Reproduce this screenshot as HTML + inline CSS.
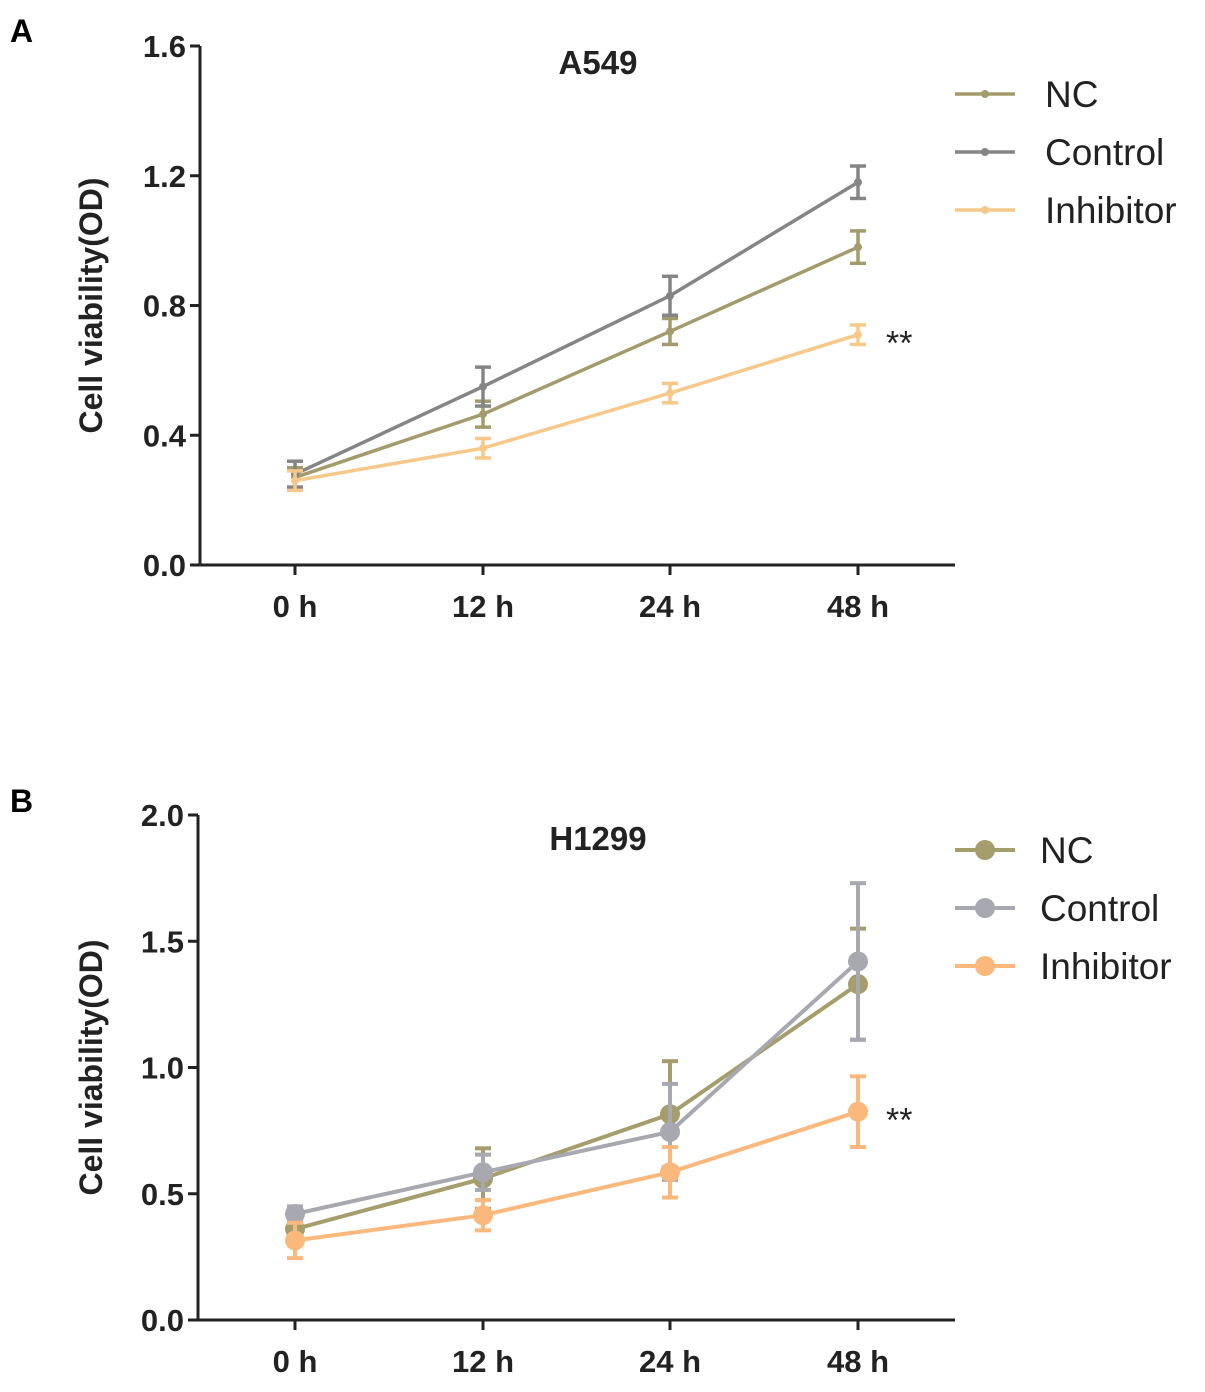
<!DOCTYPE html>
<html><head><meta charset="utf-8"><style>
body{margin:0;background:#fff;width:1205px;height:1387px;overflow:hidden}
svg text{font-family:"Liberation Sans",Arial,sans-serif}
</style></head><body>
<svg id="fig" width="1205" height="1387"></svg>
<script>
const categories=["0 h","12 h","24 h","48 h"];
const seriesNames=["NC","Control","Inhibitor"];
const aNC=[0.27,0.465,0.72,0.98], aNCerr=[0.03,0.04,0.04,0.05];
const aCtl=[0.28,0.55,0.83,1.18], aCtlerr=[0.04,0.06,0.06,0.05];
const aInh=[0.26,0.36,0.53,0.71], aInherr=[0.03,0.03,0.03,0.03];
const bNC=[0.36,0.56,0.815,1.33], bNCerr=[0.04,0.12,0.21,0.22];
const bCtl=[0.42,0.585,0.745,1.42], bCtlerr=[0.03,0.07,0.19,0.31];
const bInh=[0.315,0.415,0.585,0.825], bInherr=[0.07,0.06,0.1,0.14];
const aTicks=[0,0.4,0.8,1.2,1.6], bTicks=[0,0.5,1.0,1.5,2.0];
const NS="http://www.w3.org/2000/svg";
const svg=document.getElementById('fig');
function mk(t,a,p){const e=document.createElementNS(NS,t);for(const k in a)e.setAttribute(k,a[k]);(p||svg).appendChild(e);return e;}
function panel(o){
 const g=mk('g',{});
 
 
 const y=v=>o.y0-(v-o.ymin)/(o.ymax-o.ymin)*(o.y0-o.y1);
 const xs=[295,483,670,858];
 const x=i=>xs[i];
 let t=mk('text',{x:10,y:o.labY,'font-size':32,'font-weight':'bold'},g);t.textContent=o.letter;
 
 mk('line',{x1:o.ax,y1:o.y1,x2:o.ax,y2:o.y0,stroke:'#222','stroke-width':3},g);
 mk('line',{x1:o.ax,y1:o.y0,x2:955,y2:o.y0,stroke:'#222','stroke-width':3},g);
 o.ticks.forEach(v=>{mk('line',{x1:o.ax-10,y1:y(v),x2:o.ax,y2:y(v),stroke:'#222','stroke-width':3},g);
  const tt=mk('text',{x:o.ax-14,y:y(v)+11,'font-size':31,'font-weight':'bold','text-anchor':'end',fill:'#222'},g);tt.textContent=v.toFixed(1);
  });
 categories.forEach((c,i)=>{mk('line',{x1:x(i),y1:o.y0,x2:x(i),y2:o.y0+10,stroke:'#222','stroke-width':3},g);
  const tt=mk('text',{x:x(i),y:o.y0+52,'font-size':31,'font-weight':'bold','text-anchor':'middle',fill:'#222'},g);tt.textContent=c;
  });
 const yt=mk('text',{transform:`translate(102,${(o.y0+o.y1)/2}) rotate(-90)`,'font-size':32,'font-weight':'bold','text-anchor':'middle',fill:'#222'},g);
 yt.textContent='Cell viability(OD)';
 const ti=mk('text',{x:598,y:o.titleY,'font-size':33,'font-weight':'bold','text-anchor':'middle',fill:'#222'},g);
 ti.textContent=o.title;
 o.series.forEach((s,si)=>{
  const sg=mk('g',{},g);
  
  mk('polyline',{points:s.v.map((v,i)=>x(i)+','+y(v)).join(' '),fill:'none',stroke:s.c,'stroke-width':o.lw},sg);
  s.v.forEach((v,i)=>{const hi=y(v+s.e[i]),lo=y(v-s.e[i]);
   mk('line',{x1:x(i),y1:hi,x2:x(i),y2:lo,stroke:s.c,'stroke-width':o.lw},sg);
   mk('line',{x1:x(i)-8,y1:hi,x2:x(i)+8,y2:hi,stroke:s.c,'stroke-width':o.lw},sg);
   mk('line',{x1:x(i)-8,y1:lo,x2:x(i)+8,y2:lo,stroke:s.c,'stroke-width':o.lw},sg);
   const m=mk('circle',{cx:x(i),cy:y(v),r:o.r,fill:s.c},sg);
   });
  const ly=o.legY+si*58;
  const lg=mk('g',{},g);
  mk('line',{x1:955,y1:ly,x2:1015,y2:ly,stroke:s.c,'stroke-width':o.lw},lg);
  mk('circle',{cx:985,cy:ly,r:o.r,fill:s.c},lg);
  const lt=mk('text',{x:o.legX,y:ly+13,'font-size':37,fill:'#222'},lg);lt.textContent=seriesNames[si];
 });
 const st=mk('text',{x:886,y:y(o.series[2].v[3])+20,'font-size':34,fill:'#222'},g);st.textContent='**';
 
}
panel({name:'panel-a-a549',letter:'A',labY:42,title:'A549',titleY:74,ax:200,y0:565,y1:46,ymin:0,ymax:1.6,ticks:aTicks,lw:3.5,r:4,legY:94,legX:1045,
 series:[{v:aNC,e:aNCerr,c:'#a39b6b'},{v:aCtl,e:aCtlerr,c:'#858585'},{v:aInh,e:aInherr,c:'#f6c889'}]});
panel({name:'panel-b-h1299',letter:'B',labY:812,title:'H1299',titleY:850,ax:198,y0:1320,y1:815,ymin:0,ymax:2.0,ticks:bTicks,lw:4,r:10,legY:850,legX:1040,
 series:[{v:bNC,e:bNCerr,c:'#a59d6c'},{v:bCtl,e:bCtlerr,c:'#a8a8b0'},{v:bInh,e:bInherr,c:'#fbb87c'}]});
</script>
</body></html>
